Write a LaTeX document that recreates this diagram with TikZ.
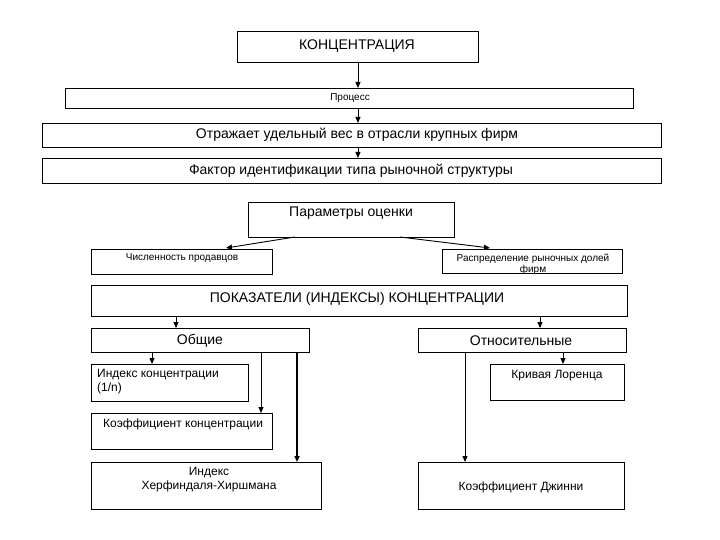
\documentclass[tikz,border=0pt]{standalone}
\usepackage{fontspec}
\setmainfont{Liberation Sans}
\usetikzlibrary{arrows.meta}
\begin{document}
\begin{tikzpicture}[x=1pt,y=-1pt,
  box/.style={draw, line width=0.9pt, inner sep=0pt, anchor=north west},
  big/.style={inner sep=0pt, font=\fontsize{14}{16}\selectfont},
  mid/.style={inner sep=0pt, font=\fontsize{12}{14}\selectfont},
  small/.style={inner sep=0pt, font=\fontsize{10}{11}\selectfont},
  arr/.style={line width=0.9pt, -{Triangle[length=6pt,width=5pt]}},
  thickarr/.style={line width=1.5pt, -{Triangle[length=6pt,width=5pt]}}]
\useasboundingbox (0,0) rectangle (720,540);
% boxes
\node[box, minimum width=241pt, minimum height=31pt] (konc) at (237,31) {};
\node[box, minimum width=568pt, minimum height=20pt] (proc) at (65,88) {};
\node[box, minimum width=619pt, minimum height=24pt] (otr) at (42,123) {};
\node[box, minimum width=619pt, minimum height=25pt] (fakt) at (42,158) {};
\node[box, minimum width=206pt, minimum height=35pt] (param) at (248,202) {};
\node[box, minimum width=181pt, minimum height=25pt] (chisl) at (91,249) {};
\node[box, minimum width=180pt, minimum height=24pt] (raspr) at (442,249) {};
\node[box, minimum width=536pt, minimum height=31pt] (pokaz) at (91,285) {};
\node[box, minimum width=218pt, minimum height=24pt] (obsh) at (91,328) {};
\node[box, minimum width=208pt, minimum height=24pt] (otnos) at (418,328) {};
\node[box, minimum width=157pt, minimum height=37pt] (index) at (91,364) {};
\node[box, minimum width=181pt, minimum height=36pt] (koef) at (91,413) {};
\node[box, minimum width=230pt, minimum height=47pt] (herf) at (91,462) {};
\node[box, minimum width=134pt, minimum height=36pt] (lor) at (490,364) {};
\node[box, minimum width=206pt, minimum height=47pt] (dzh) at (418,462) {};
% texts
\node[big] (tkonc) at (357,46) {КОНЦЕНТРАЦИЯ};
\node[small] (tproc) at (350,98) {Процесс};
\node[big] (totr) at (357,134.5) {Отражает удельный вес в отрасли крупных фирм};
\node[big] (tfakt) at (351,171) {Фактор идентификации типа рыночной структуры};
\node[big] (tparam) at (351,213.5) {Параметры оценки};
\node[small] (tchisl) at (182,258) {Численность продавцов};
\node[small, align=center] (traspr) at (533,264.5) {Распределение рыночных долей\\фирм};
\node[big] (tpokaz) at (357,298.5) {ПОКАЗАТЕЛИ (ИНДЕКСЫ) КОНЦЕНТРАЦИИ};
\node[big] (tobsh) at (200,340.5) {Общие};
\node[big] (totnos) at (521,341) {Относительные};
\node[mid, align=left, anchor=west] (tindex) at (97,382) {Индекс концентрации\\(1/n)};
\node[mid, anchor=west] (tkoef) at (103,424) {Коэффициент концентрации};
\node[mid, align=center] (therf) at (209,479.5) {Индекс\\Херфиндаля-Хиршмана};
\node[mid] (tlor) at (557,375.5) {Кривая Лоренца};
\node[mid] (tdzh) at (521,487) {Коэффициент Джинни};
% connector end points
\coordinate (pl) at (295,237);
\coordinate (pr) at (400,237);
\coordinate (cl) at (226,248);
\coordinate (cr) at (490,248);
% connectors
\draw[arr] (konc.south) -- (konc.south |- proc.north);
\draw[arr] (konc.south |- proc.south) -- (konc.south |- otr.north);
\draw[arr] (konc.south |- otr.south) -- (konc.south |- fakt.north);
\draw[arr] (pl) -- (cl);
\draw[arr] (pr) -- (cr);
\draw[arr] (pokaz.south -| 176,0) -- (obsh.north -| 176,0);
\draw[arr] (pokaz.south -| 540,0) -- (otnos.north -| 540,0);
\draw[arr] (obsh.south -| 152,0) -- (index.north -| 152,0);
\draw[arr] (obsh.south -| 261,0) -- (koef.north -| 261,0);
\draw[thickarr] (obsh.south -| 297,0) -- (herf.north -| 297,0);
\draw[arr] (otnos.south -| 563,0) -- (lor.north -| 563,0);
\draw[arr] (otnos.south -| 465,0) -- (dzh.north -| 465,0);
\end{tikzpicture}
\end{document}
